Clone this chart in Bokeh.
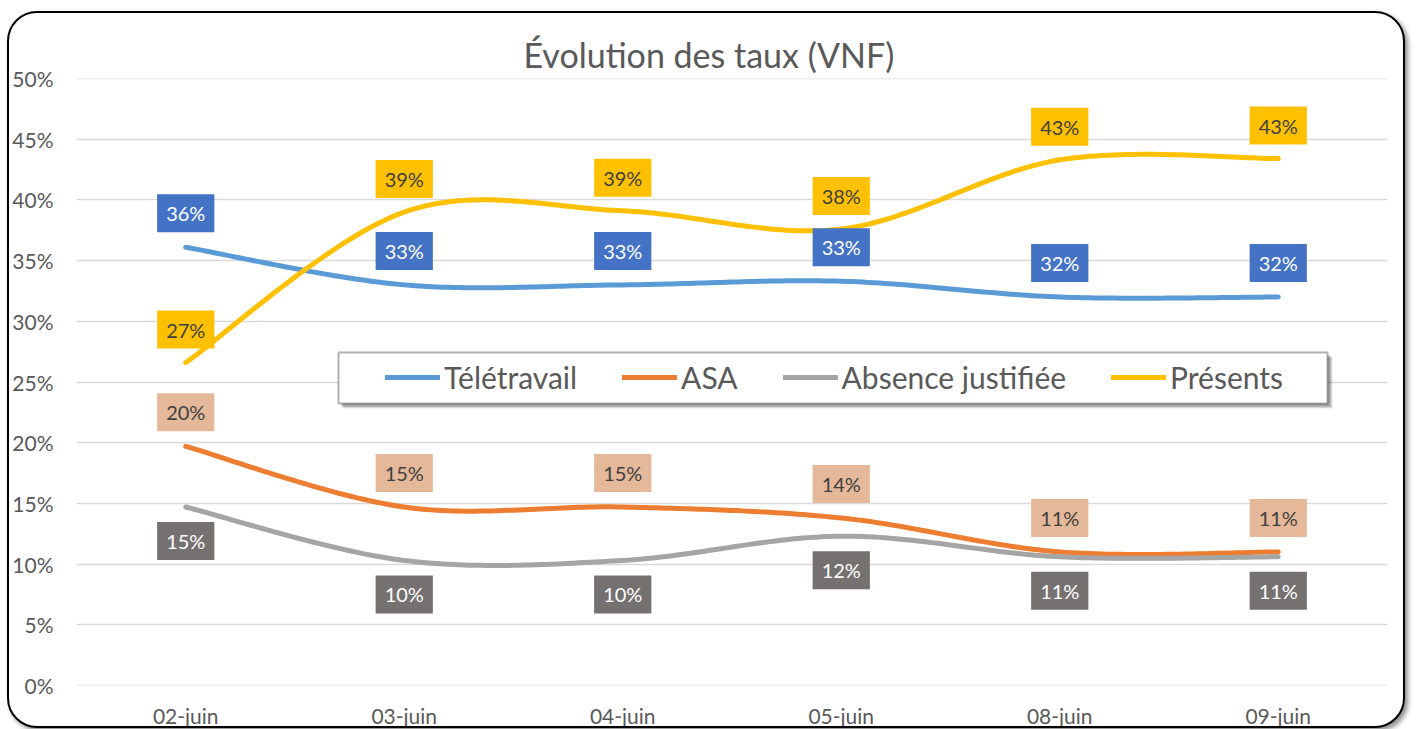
import numpy as np
from bokeh.plotting import figure
from bokeh.models import (Range1d, FixedTicker, ColumnDataSource, Legend,
                          LegendItem, BoxAnnotation, Span)
from bokeh.core.properties import value
from bokeh.embed import file_html
from bokeh.resources import INLINE

# ---------------- data ----------------
categories = ["02-juin", "03-juin", "04-juin", "05-juin", "08-juin", "09-juin"]
teletravail = [36.1, 33.0, 33.0, 33.3, 32.0, 32.0]
asa = [19.7, 14.7, 14.7, 13.8, 11.0, 11.0]
absence = [14.7, 10.3, 10.3, 12.3, 10.6, 10.6]
presents = [26.6, 39.0, 39.1, 37.6, 43.3, 43.4]
series_names = ["Télétravail", "ASA", "Absence justifiée", "Présents"]
y_ticks = [0, 5, 10, 15, 20, 25, 30, 35, 40, 45, 50]
y_tick_labels = ["0%", "5%", "10%", "15%", "20%", "25%", "30%", "35%", "40%", "45%", "50%"]

FONT = "Lato"
GREY_TXT = "#595959"
GRID = "#D9D9D9"


def smooth(vals, n=40):
    """Excel-like smoothed line (Catmull-Rom as cubic Bezier)."""
    pts = np.column_stack([np.arange(len(vals), dtype=float), np.array(vals, float)])
    out = []
    m = len(pts)
    for i in range(m - 1):
        p0 = pts[i - 1] if i > 0 else pts[i]
        p1 = pts[i]
        p2 = pts[i + 1]
        p3 = pts[i + 2] if i + 2 < m else pts[i + 1]
        c1 = p1 + (p2 - p0) / 6.0
        c2 = p2 - (p3 - p1) / 6.0
        t = np.linspace(0, 1, n, endpoint=(i == m - 2))[:, None]
        seg = (1 - t) ** 3 * p1 + 3 * (1 - t) ** 2 * t * c1 + 3 * (1 - t) * t ** 2 * c2 + t ** 3 * p2
        out.append(seg)
    out = np.vstack(out)
    return out[:, 0], out[:, 1]


p = figure(width=1398, height=717,
           x_range=Range1d(-0.5, 5.5), y_range=Range1d(0, 50),
           output_backend="svg", toolbar_location=None,
           min_border_left=66, min_border_right=20, min_border_top=65, min_border_bottom=45)
p.styles = {"border": "2px solid #000", "border-radius": "30px",
            "box-shadow": "3px 3px 5px rgba(0,0,0,0.45)",
            "margin-top": "11px", "margin-left": "7px",
            "background-color": "white", "overflow": "hidden"}
p.border_fill_color = None
p.outline_line_color = None
p.background_fill_color = "white"

# title
p.title.text = "Évolution des taux (VNF)"
p.title.align = "left"
p.title.offset = 447
p.title.standoff = 8
p.title.text_font = FONT
p.title.text_font_size = "34px"
p.title.text_font_style = "normal"
p.title.text_color = GREY_TXT

# axes
p.xaxis.ticker = FixedTicker(ticks=list(range(len(categories))))
p.xaxis.major_label_overrides = {i: c for i, c in enumerate(categories)}
p.yaxis.ticker = FixedTicker(ticks=y_ticks)
p.yaxis.major_label_overrides = {t: l for t, l in zip(y_ticks, y_tick_labels)}
for ax in (p.xaxis, p.yaxis):
    ax.axis_line_color = None
    ax.major_tick_line_color = None
    ax.minor_tick_line_color = None
    ax.major_tick_out = 0
    ax.major_tick_in = 0
    ax.minor_tick_out = 0
    ax.minor_tick_in = 0
    ax.major_label_text_font = FONT
    ax.major_label_text_font_size = "21px"
    ax.major_label_text_color = GREY_TXT
p.yaxis.major_label_standoff = 23
p.xaxis.major_label_standoff = 17
p.xgrid.grid_line_color = None
p.ygrid.grid_line_color = GRID
p.ygrid.grid_line_width = 1.5
for loc in (y_ticks[0], y_ticks[-1]):
    p.add_layout(Span(location=loc, dimension="width", line_color=GRID,
                      line_width=1.5, level="underlay"))

# series
line_colors = ["#5B9BD5", "#ED7D31", "#A5A5A5", "#FFC000"]
box_colors = ["#4472C4", "#E6B89A", "#767171", "#FFC000"]
text_colors = ["white", "#404040", "white", "#404040"]
offsets = [-34, -34, 34, -33]   # screen px (down positive)
data = [teletravail, asa, absence, presents]

renderers = []
for vals, lc in zip(data, line_colors):
    xs, ys = smooth(vals)
    r = p.line(xs, ys, line_color=lc, line_width=5, line_cap="round", line_join="round")
    renderers.append(r)

for vals, bc, tc, off in zip(data, box_colors, text_colors, offsets):
    src = ColumnDataSource(dict(x=list(range(len(vals))), y=vals,
                                t=[f"{int(v + 0.5)}%" for v in vals]))
    p.text(x="x", y="y", text="t", source=src, text_align="center",
           text_baseline="middle", y_offset=off,
           text_font=value(FONT), text_font_size="20px", text_color=tc,
           background_fill_color=bc, background_fill_alpha=1.0,
           padding=dict(left=9, right=9, top=7, bottom=7), level="overlay")

# legend box (frame + shadow)
for dx, a in [(5, 0.10), (4, 0.12), (3, 0.18)]:
    p.add_layout(BoxAnnotation(left=262 + dx, right=1251 + dx, bottom=282 - dx, top=333 - dx,
                               left_units="screen", right_units="screen",
                               bottom_units="screen", top_units="screen",
                               fill_color="black", fill_alpha=a, line_color=None))
p.add_layout(BoxAnnotation(left=262, right=1251, bottom=282, top=333,
                           left_units="screen", right_units="screen",
                           bottom_units="screen", top_units="screen",
                           fill_color="white", fill_alpha=1.0,
                           line_color="black", line_width=2))

legend = Legend(items=[LegendItem(label=n, renderers=[r]) for n, r in zip(series_names, renderers)],
                orientation="horizontal", location=(309, 290),
                border_line_color=None, background_fill_alpha=0, padding=0, margin=0,
                spacing=45, label_standoff=4, glyph_width=55, glyph_height=36,
                label_height=36, label_text_font=FONT, label_text_font_size="30px",
                label_text_color=GREY_TXT)
p.add_layout(legend)

open("out.html", "w").write(file_html(p, INLINE))
